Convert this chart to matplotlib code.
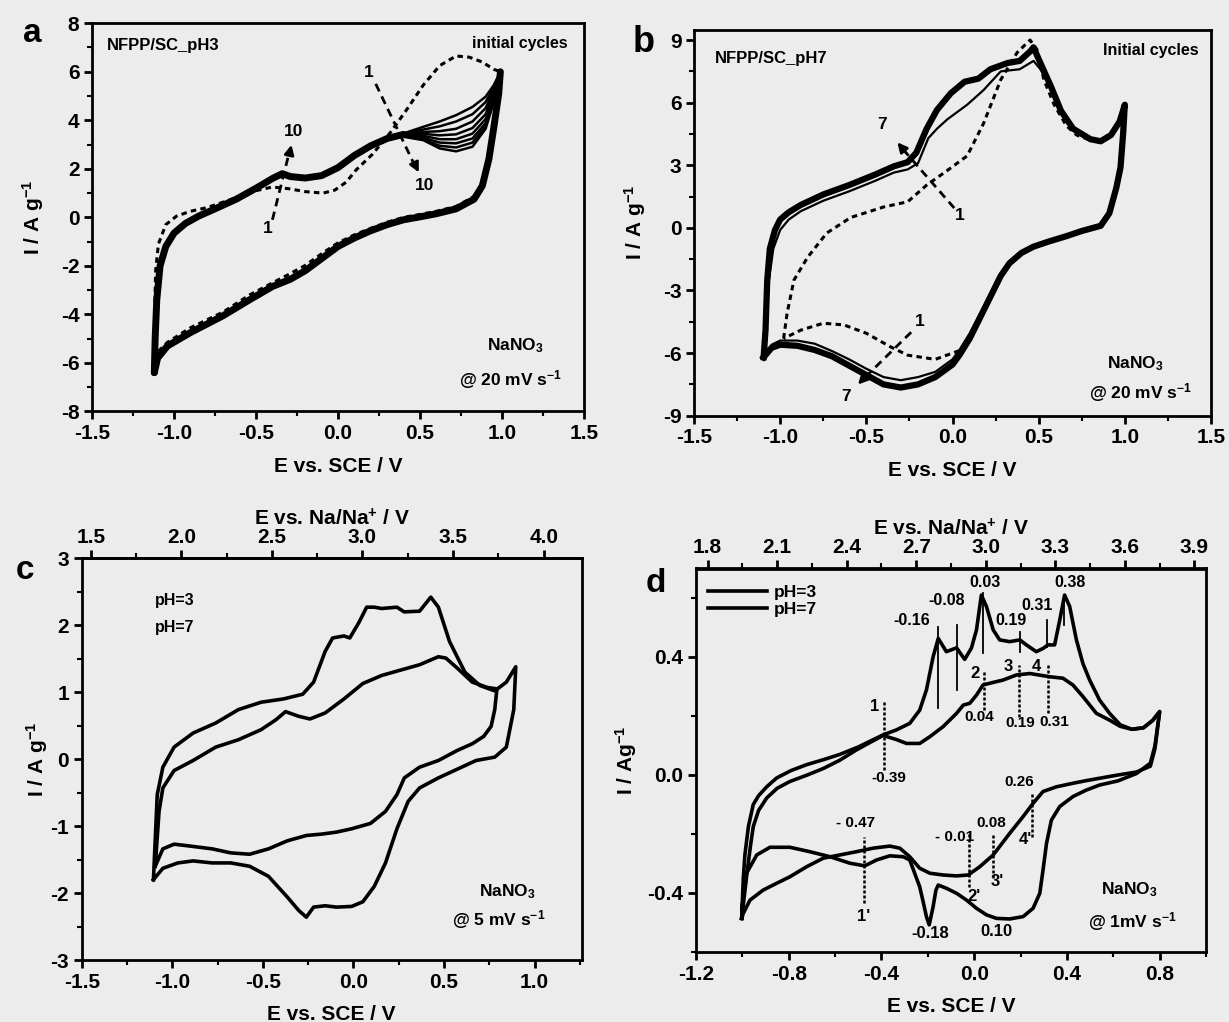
import matplotlib
matplotlib.use('Agg')
import matplotlib.pyplot as plt
from matplotlib.ticker import MultipleLocator, FormatStrFormatter, FixedLocator

plt.rcParams['font.family'] = ['Liberation Sans', 'DejaVu Sans']
plt.rcParams['font.weight'] = 'bold'
plt.rcParams['mathtext.fontset'] = 'custom'
plt.rcParams['mathtext.rm'] = 'Liberation Sans:bold'
plt.rcParams['mathtext.bf'] = 'Liberation Sans:bold'
plt.rcParams['mathtext.default'] = 'bf'

# ---------------- panel a : NFPP/SC pH3, cycles 1-10 ----------------
a_up_E = [-1.12, -1.115, -1.105, -1.085, -1.05, -1.0, -0.93, -0.85, -0.75, -0.62, -0.50,
          -0.40, -0.34, -0.29, -0.20, -0.10, 0.0, 0.10, 0.20, 0.30, 0.40]
a_up_I = [-6.4, -5.0, -3.4, -2.0, -1.2, -0.65, -0.25, 0.05, 0.35, 0.75, 1.2,
          1.6, 1.8, 1.68, 1.62, 1.72, 2.05, 2.55, 2.95, 3.25, 3.42]
a_tail_E = [0.40, 0.52, 0.62, 0.72, 0.82, 0.90, 0.95, 0.99]
a_tail_c2 = [3.46, 3.73, 3.95, 4.21, 4.55, 4.97, 5.45, 6.0]
a_tail_c3 = [3.44, 3.62, 3.75, 3.95, 4.25, 4.75, 5.35, 6.0]
a_tail_c4 = [3.42, 3.52, 3.55, 3.65, 3.95, 4.50, 5.25, 6.0]
a_tail_c5 = [3.40, 3.44, 3.38, 3.42, 3.68, 4.25, 5.15, 6.0]
a_tail_c6 = [3.38, 3.36, 3.22, 3.22, 3.45, 4.05, 5.05, 6.0]
a_tail_c7 = [3.36, 3.28, 3.08, 3.05, 3.25, 3.88, 4.95, 6.0]
a_tail_c8 = [3.34, 3.22, 2.95, 2.88, 3.08, 3.75, 4.85, 6.0]
a_tail_c10 = [3.32, 3.18, 2.84, 2.72, 2.91, 3.65, 4.75, 6.0]
a_down_E = [0.99, 0.98, 0.95, 0.92, 0.88, 0.83, 0.72, 0.60, 0.50, 0.40, 0.30, 0.20, 0.10,
            0.0, -0.10, -0.20, -0.29, -0.40, -0.54, -0.70, -0.90, -1.04, -1.10, -1.12]
a_down_I = [6.0, 5.1, 3.7, 2.4, 1.3, 0.75, 0.35, 0.15, 0.02, -0.10, -0.30, -0.55, -0.85,
            -1.2, -1.7, -2.2, -2.55, -2.85, -3.4, -4.05, -4.75, -5.3, -5.8, -6.4]
a_c1_up_E = [-1.12, -1.118, -1.112, -1.095, -1.05, -0.985, -0.90, -0.80, -0.66, -0.50, -0.40,
             -0.30, -0.20, -0.09, -0.02, 0.05, 0.11, 0.21, 0.32, 0.42, 0.52, 0.62, 0.72,
             0.80, 0.88, 0.95, 0.99]
a_c1_up_I = [-5.9, -4.0, -2.2, -1.1, -0.3, 0.05, 0.25, 0.40, 0.72, 1.1, 1.25,
             1.18, 1.06, 1.0, 1.12, 1.45, 1.95, 2.6, 3.5, 4.45, 5.45, 6.25, 6.65,
             6.6, 6.4, 6.1, 6.0]
a_c1_down_E = [0.99, 0.97, 0.93, 0.89, 0.84, 0.72, 0.60, 0.50, 0.40, 0.30, 0.20, 0.10, 0.0,
               -0.10, -0.20, -0.30, -0.40, -0.54, -0.70, -0.90, -1.04, -1.10, -1.12]
a_c1_down_I = [6.0, 4.5, 2.6, 1.5, 0.9, 0.45, 0.25, 0.12, 0.0, -0.2, -0.45, -0.72, -1.05,
               -1.5, -1.98, -2.35, -2.7, -3.2, -3.9, -4.55, -5.15, -5.55, -5.9]

# ---------------- panel b : NFPP/SC pH7, cycles 1-7 ----------------
b_c7_E = [-1.096, -1.085, -1.075, -1.06, -1.03, -1.0, -0.95, -0.88, -0.75, -0.60, -0.45, -0.34,
          -0.26, -0.21, -0.15, -0.09, -0.01, 0.07, 0.15, 0.22, 0.32, 0.39, 0.45, 0.47, 0.51,
          0.57, 0.63, 0.70, 0.80, 0.86, 0.92, 0.97, 1.0,
          0.99, 0.975, 0.95, 0.91, 0.86, 0.75, 0.66, 0.56, 0.47, 0.40, 0.33, 0.28, 0.22, 0.16,
          0.10, 0.04, 0.0, -0.10, -0.20, -0.30, -0.40, -0.50, -0.60, -0.70, -0.80, -0.90, -1.0,
          -1.05, -1.096]
b_c7_I = [-6.2, -4.9, -2.5, -1.0, -0.1, 0.4, 0.75, 1.1, 1.6, 2.05, 2.55, 2.95,
          3.15, 3.6, 4.75, 5.65, 6.45, 7.0, 7.15, 7.6, 7.9, 8.0, 8.45, 8.65, 7.9,
          6.8, 5.6, 4.75, 4.25, 4.15, 4.45, 5.1, 5.9,
          4.5, 2.9, 1.9, 0.7, 0.1, -0.15, -0.4, -0.65, -0.9, -1.2, -1.7, -2.3, -3.3, -4.3,
          -5.3, -6.1, -6.55, -7.15, -7.5, -7.65, -7.5, -7.05, -6.6, -6.15, -5.85, -5.65, -5.6,
          -5.75, -6.2]
b_c2_E = [-1.096, -1.08, -1.065, -1.04, -1.0, -0.95, -0.88, -0.75, -0.60, -0.45, -0.34, -0.26,
          -0.20, -0.14, -0.09, -0.03, 0.085, 0.18, 0.28, 0.39, 0.45, 0.47, 0.51, 0.57, 0.63,
          0.70, 0.80, 0.86, 0.92, 0.97, 1.0,
          0.99, 0.975, 0.95, 0.91, 0.86, 0.75, 0.66, 0.56, 0.47, 0.40, 0.33, 0.28, 0.22, 0.16,
          0.10, 0.04, 0.0, -0.10, -0.20, -0.30, -0.40, -0.50, -0.60, -0.70, -0.80, -0.90, -1.0,
          -1.05, -1.096]
b_c2_I = [-6.2, -4.5, -2.5, -1.0, -0.1, 0.4, 0.8, 1.3, 1.75, 2.25, 2.65, 2.8,
          3.1, 4.3, 4.75, 5.2, 5.9, 6.6, 7.5, 7.6, 7.9, 8.0, 7.6, 6.7, 5.5,
          4.7, 4.2, 4.1, 4.4, 5.05, 5.9,
          4.5, 2.9, 1.9, 0.75, 0.15, -0.1, -0.35, -0.6, -0.85, -1.15, -1.6, -2.2, -3.15, -4.1,
          -5.05, -5.85, -6.3, -6.9, -7.15, -7.3, -7.15, -6.75, -6.3, -5.9, -5.55, -5.4, -5.4,
          -5.6, -6.2]
b_c1_E = [-0.98, -0.96, -0.92, -0.84, -0.73, -0.59, -0.40, -0.26, -0.15, -0.03, 0.085, 0.18,
          0.28, 0.375, 0.45, 0.49, 0.53, 0.59, 0.66, 0.72, 0.80, 0.86, 0.92, 0.97, 1.0,
          0.99, 0.975, 0.95, 0.91, 0.86, 0.75, 0.66, 0.56, 0.47, 0.40, 0.33, 0.28, 0.22, 0.16,
          0.10, 0.05, -0.10, -0.26, -0.36, -0.50, -0.63, -0.75, -0.88, -0.98]
b_c1_I = [-5.3, -4.1, -2.5, -1.4, -0.25, 0.5, 1.0, 1.25, 2.05, 2.75, 3.45, 5.0,
          7.1, 8.4, 9.0, 8.55, 7.1, 5.9, 4.9, 4.45, 4.2, 4.1, 4.4, 5.05, 5.9,
          4.5, 2.9, 1.9, 0.7, 0.1, -0.15, -0.4, -0.65, -0.9, -1.2, -1.7, -2.3, -3.3, -4.3,
          -5.3, -5.85, -6.3, -6.1, -5.7, -5.05, -4.65, -4.57, -4.9, -5.3]

# ---------------- panel c : pH3 vs pH7 at 5 mV/s ----------------
c_ph7_E = [-1.104, -1.083, -1.052, -0.99, -0.885, -0.76, -0.635, -0.51, -0.385, -0.28, -0.22,
           -0.156, -0.115, -0.052, -0.02, 0.03, 0.073, 0.115, 0.156, 0.24, 0.28, 0.365, 0.427,
           0.469, 0.53, 0.615, 0.698, 0.78, 0.844, 0.896,
           0.885, 0.844, 0.78, 0.677, 0.573, 0.469, 0.365, 0.302, 0.24, 0.177, 0.115, 0.052,
           -0.01, -0.094, -0.156, -0.22, -0.26, -0.302, -0.365, -0.469, -0.573, -0.677, -0.78,
           -0.885, -0.969, -1.052, -1.104]
c_ph7_I = [-1.8, -0.53, -0.12, 0.18, 0.39, 0.54, 0.74, 0.85, 0.9, 0.97, 1.15,
           1.61, 1.81, 1.84, 1.81, 2.04, 2.27, 2.27, 2.25, 2.27, 2.2, 2.21, 2.42,
           2.27, 1.76, 1.3, 1.1, 1.02, 1.15, 1.38,
           0.74, 0.18, 0.03, -0.02, -0.15, -0.28, -0.43, -0.63, -1.04, -1.55, -1.9, -2.13,
           -2.2, -2.21, -2.19, -2.21, -2.36, -2.26, -2.06, -1.75, -1.6, -1.55, -1.55,
           -1.52, -1.55, -1.63, -1.8]
c_ph3_E = [-1.094, -1.073, -1.052, -0.99, -0.885, -0.76, -0.635, -0.51, -0.427, -0.375, -0.302,
           -0.24, -0.156, -0.052, 0.052, 0.156, 0.26, 0.365, 0.469, 0.51, 0.573, 0.656, 0.74,
           0.792,
           0.78, 0.76, 0.719, 0.656, 0.573, 0.469, 0.365, 0.281, 0.24, 0.177, 0.094, -0.01,
           -0.094, -0.177, -0.26, -0.365, -0.469, -0.573, -0.677, -0.78, -0.927, -0.99, -1.052,
           -1.094]
c_ph3_I = [-1.6, -0.78, -0.43, -0.17, -0.02, 0.18, 0.29, 0.44, 0.59, 0.71, 0.64,
           0.6, 0.69, 0.9, 1.13, 1.25, 1.33, 1.41, 1.53, 1.51, 1.36, 1.15, 1.07,
           1.05,
           0.74, 0.49, 0.34, 0.23, 0.13, -0.02, -0.12, -0.28, -0.53, -0.78, -0.96, -1.04,
           -1.09, -1.12, -1.14, -1.22, -1.34, -1.42, -1.4, -1.34, -1.29, -1.27, -1.34,
           -1.6]

# ---------------- panel d : pH3 vs pH7 at 1 mV/s ----------------
d_ph7_E = [-1.003, -0.996, -0.989, -0.974, -0.953, -0.93, -0.895, -0.852, -0.79, -0.723, -0.65,
           -0.579, -0.50, -0.44, -0.393, -0.335, -0.278, -0.235, -0.206, -0.177, -0.155, -0.12,
           -0.076, -0.041, -0.012, 0.010, 0.031, 0.053, 0.082, 0.110, 0.153, 0.197, 0.225,
           0.268, 0.297, 0.318, 0.347, 0.369, 0.390, 0.412, 0.441, 0.469, 0.498, 0.541, 0.584,
           0.63, 0.68, 0.73, 0.77, 0.80,
           0.78, 0.76, 0.70, 0.62, 0.541, 0.484, 0.426, 0.369, 0.333, 0.312, 0.297, 0.283,
           0.254, 0.211, 0.153, 0.096, 0.053, 0.010, -0.033, -0.076, -0.120, -0.155, -0.165,
           -0.177, -0.194, -0.206, -0.220, -0.235, -0.278, -0.306, -0.364, -0.421, -0.472,
           -0.536, -0.622, -0.709, -0.795, -0.881, -0.938, -0.982, -0.999, -1.003]
d_ph7_I = [-0.486, -0.35, -0.27, -0.175, -0.10, -0.07, -0.04, -0.01, 0.015, 0.035, 0.052,
           0.07, 0.095, 0.118, 0.136, 0.153, 0.175, 0.220, 0.288, 0.401, 0.463, 0.418,
           0.431, 0.392, 0.430, 0.492, 0.610, 0.571, 0.492, 0.458, 0.452, 0.458, 0.441,
           0.418, 0.429, 0.441, 0.441, 0.525, 0.610, 0.571, 0.458, 0.378, 0.322, 0.254, 0.209,
           0.17, 0.155, 0.16, 0.185, 0.215,
           0.10, 0.04, 0.005, -0.02, -0.034, -0.051, -0.073, -0.107, -0.153, -0.232, -0.322,
           -0.401, -0.452, -0.480, -0.488, -0.486, -0.474, -0.452, -0.424, -0.401, -0.384,
           -0.373, -0.39, -0.446, -0.508, -0.480, -0.43, -0.379, -0.288, -0.277, -0.274,
           -0.288, -0.308, -0.299, -0.277, -0.260, -0.245, -0.245, -0.271, -0.333, -0.435,
           -0.486]
d_ph3_E = [-1.003, -0.99, -0.982, -0.965, -0.953, -0.93, -0.895, -0.85, -0.795, -0.72, -0.651,
           -0.58, -0.508, -0.45, -0.393, -0.335, -0.292, -0.235, -0.191, -0.134, -0.076,
           -0.047, -0.019, 0.010, 0.038, 0.067, 0.125, 0.182, 0.240, 0.326, 0.383, 0.426,
           0.469, 0.527, 0.584, 0.63, 0.68, 0.73, 0.77, 0.80,
           0.78, 0.76, 0.70, 0.62, 0.541, 0.484, 0.426, 0.355, 0.297, 0.254, 0.211, 0.153,
           0.082, 0.024, -0.026, -0.076, -0.134, -0.191, -0.235, -0.278, -0.321, -0.364,
           -0.436, -0.508, -0.579, -0.651, -0.723, -0.795, -0.852, -0.910, -0.967, -0.996,
           -1.003]
d_ph3_I = [-0.486, -0.40, -0.345, -0.24, -0.175, -0.12, -0.078, -0.045, -0.022, 0.0, 0.022,
           0.05, 0.085, 0.11, 0.134, 0.12, 0.107, 0.107, 0.130, 0.164, 0.209,
           0.237, 0.243, 0.271, 0.305, 0.311, 0.322, 0.339, 0.344, 0.333, 0.328, 0.305,
           0.266, 0.209, 0.186, 0.165, 0.155, 0.16, 0.185, 0.215,
           0.09, 0.03, 0.01, 0.0, -0.011, -0.019, -0.028, -0.040, -0.056, -0.096, -0.141,
           -0.198, -0.271, -0.311, -0.339, -0.342, -0.339, -0.333, -0.316, -0.277, -0.248,
           -0.241, -0.248, -0.260, -0.271, -0.282, -0.311, -0.345, -0.367, -0.390, -0.424,
           -0.469, -0.486]

# peak markers in d: (E, I_bottom, I_top, label, label_E, label_I)
d_ox_solid = [(-0.155, 0.226, 0.503, '-0.16', -0.27, 0.525),
              (-0.073, 0.288, 0.508, '-0.08', -0.12, 0.593),
              (0.036, 0.412, 0.616, '0.03', 0.045, 0.652),
              (0.197, 0.418, 0.486, '0.19', 0.16, 0.525),
              (0.315, 0.435, 0.525, '0.31', 0.27, 0.576),
              (0.386, 0.508, 0.610, '0.38', 0.415, 0.652)]
d_ox_dash = [(-0.388, 0.017, 0.254, '1', -0.43, 0.232, '-0.39', -0.37, -0.011),
             (0.043, 0.220, 0.356, '2', 0.002, 0.344, '0.04', 0.024, 0.198),
             (0.194, 0.198, 0.373, '3', 0.146, 0.367, '0.19', 0.197, 0.175),
             (0.318, 0.209, 0.373, '4', 0.27, 0.367, '0.31', 0.347, 0.180)]
d_red_dash = [(-0.476, -0.435, -0.209, "1'", -0.476, -0.48, '- 0.47', -0.51, -0.164),
              (-0.022, -0.379, -0.192, "2'", 0.0, -0.412, '- 0.01', -0.083, -0.209),
              (0.082, -0.350, -0.203, "3'", 0.10, -0.36, '0.08', 0.074, -0.164),
              (0.250, -0.209, -0.056, "4'", 0.22, -0.22, '0.26', 0.196, -0.023)]

c_top_ticks = [1.5, 2.0, 2.5, 3.0, 3.5, 4.0]
d_top_ticks = [1.8, 2.1, 2.4, 2.7, 3.0, 3.3, 3.6, 3.9]

W, H = 1229, 1022
fig = plt.figure(figsize=(W / 100, H / 100), dpi=100)
bg = '#ececec'
fig.patch.set_facecolor(bg)


def rect(l, r, t, b):
    return [l / W, 1 - b / H, (r - l) / W, (b - t) / H]


def style(ax, xmaj, xmin, ymaj, ymin, xfmt, yfmt):
    ax.set_facecolor(bg)
    for s in ax.spines.values():
        s.set_linewidth(2)
    ax.xaxis.set_major_locator(MultipleLocator(xmaj))
    ax.xaxis.set_minor_locator(MultipleLocator(xmin))
    ax.yaxis.set_major_locator(MultipleLocator(ymaj))
    ax.yaxis.set_minor_locator(MultipleLocator(ymin))
    ax.xaxis.set_major_formatter(FormatStrFormatter(xfmt))
    ax.yaxis.set_major_formatter(FormatStrFormatter(yfmt))
    ax.tick_params(which='major', direction='out', length=6, width=2, labelsize=15, pad=3)
    ax.tick_params(which='minor', direction='out', length=3.5, width=1.5)
    for lab in ax.get_xticklabels() + ax.get_yticklabels():
        lab.set_fontweight('bold')


def top_axis(ax, ticks, label, pad):
    sec = ax.secondary_xaxis('top', functions=(lambda x: x + 2.95, lambda x: x - 2.95))
    step = ticks[1] - ticks[0]
    minors = [t + step / 2 for t in ticks]
    sec.xaxis.set_major_locator(FixedLocator(ticks))
    sec.xaxis.set_minor_locator(FixedLocator(minors))
    sec.xaxis.set_major_formatter(FormatStrFormatter('%.1f'))
    sec.tick_params(which='major', direction='out', length=6, width=2, labelsize=15, pad=2)
    sec.tick_params(which='minor', direction='out', length=3.5, width=1.5)
    sec.spines['top'].set_linewidth(2)
    sec.set_xlabel(label, fontsize=15, fontweight='bold', labelpad=pad)


dash = (0, (1.8, 1.4))

# ---- a ----
ax = fig.add_axes(rect(92, 584, 23.2, 411.5))
ax.set_xlim(-1.5, 1.5)
ax.set_ylim(-8, 8)
ax.plot(a_up_E, a_up_I, color='k', lw=5, solid_capstyle='round')
ax.plot(a_down_E, a_down_I, color='k', lw=5, solid_capstyle='round')
for c in [a_tail_c2, a_tail_c3, a_tail_c4, a_tail_c5, a_tail_c6, a_tail_c7, a_tail_c8, a_tail_c10]:
    ax.plot(a_tail_E, c, color='k', lw=1.8)
ax.plot(a_c1_up_E, a_c1_up_I, color='k', lw=2.2, ls=dash)
ax.plot(a_c1_down_E, a_c1_down_I, color='k', lw=2.2, ls=dash)
ax.plot([-0.40, -0.30], [-0.1, 2.6], color='k', lw=2, ls=(0, (3, 2)))
ax.annotate('', xy=(-0.28, 3.1), xytext=(-0.30, 2.5),
            arrowprops=dict(arrowstyle='-|>', color='k', lw=2, mutation_scale=14))
ax.plot([0.23, 0.46], [5.5, 2.25], color='k', lw=2, ls=(0, (3, 2)))
ax.annotate('', xy=(0.50, 1.75), xytext=(0.46, 2.3),
            arrowprops=dict(arrowstyle='-|>', color='k', lw=2, mutation_scale=14))
ax.text(-0.27, 3.55, '10', fontsize=12.5, fontweight='bold', ha='center', va='center')
ax.text(-0.43, -0.45, '1', fontsize=12.5, fontweight='bold', ha='center', va='center')
ax.text(0.19, 5.95, '1', fontsize=12.5, fontweight='bold', ha='center', va='center')
ax.text(0.53, 1.3, '10', fontsize=12.5, fontweight='bold', ha='center', va='center')
ax.text(-1.41, 7.1, 'NFPP/SC_pH3', fontsize=12, fontweight='bold', ha='left', va='center')
ax.text(1.40, 7.15, 'initial cycles', fontsize=11.5, fontweight='bold', ha='right', va='center')
ax.text(1.08, -5.3, 'NaNO$_3$', fontsize=12.5, ha='center', va='center')
ax.text(1.05, -6.7, '@ 20 mV s$^{-1}$', fontsize=12.5, ha='center', va='center')
style(ax, 0.5, 0.25, 2, 1, '%.1f', '%d')
ax.set_xlabel('E vs. SCE / V', fontsize=15, fontweight='bold', labelpad=10)
ax.set_ylabel('I / A g$^{-1}$', fontsize=15, fontweight='bold', labelpad=11)
fig.text(32 / W, 1 - 33 / H, 'a', fontsize=24, fontweight='bold', ha='center', va='center')

# ---- b ----
ax = fig.add_axes(rect(694, 1211, 29.6, 415.7))
ax.set_xlim(-1.5, 1.5)
ax.set_ylim(-9, 9.5)
ax.plot(b_c7_E, b_c7_I, color='k', lw=4.5)
ax.plot(b_c2_E, b_c2_I, color='k', lw=1.6)
ax.plot(b_c1_E, b_c1_I, color='k', lw=2.2, ls=dash)
ax.plot([0.01, -0.27], [0.95, 3.6], color='k', lw=2, ls=(0, (3, 2)))
ax.annotate('', xy=(-0.33, 4.2), xytext=(-0.26, 3.5),
            arrowprops=dict(arrowstyle='-|>', color='k', lw=2, mutation_scale=14))
ax.plot([-0.24, -0.50], [-5.0, -7.1], color='k', lw=2, ls=(0, (3, 2)))
ax.annotate('', xy=(-0.56, -7.6), xytext=(-0.49, -7.0),
            arrowprops=dict(arrowstyle='-|>', color='k', lw=2, mutation_scale=14))
ax.text(-0.41, 4.95, '7', fontsize=12.5, fontweight='bold', ha='center', va='center')
ax.text(0.04, 0.6, '1', fontsize=12.5, fontweight='bold', ha='center', va='center')
ax.text(-0.19, -4.5, '1', fontsize=12.5, fontweight='bold', ha='center', va='center')
ax.text(-0.62, -8.1, '7', fontsize=12.5, fontweight='bold', ha='center', va='center')
ax.text(-1.38, 8.1, 'NFPP/SC_pH7', fontsize=12, fontweight='bold', ha='left', va='center')
ax.text(1.43, 8.5, 'Initial cycles', fontsize=11.5, fontweight='bold', ha='right', va='center')
ax.text(1.06, -6.5, 'NaNO$_3$', fontsize=12.5, ha='center', va='center')
ax.text(1.09, -7.9, '@ 20 mV s$^{-1}$', fontsize=12.5, ha='center', va='center')
style(ax, 0.5, 0.25, 3, 1.5, '%.1f', '%d')
ax.set_xlabel('E vs. SCE / V', fontsize=15, fontweight='bold', labelpad=10)
ax.set_ylabel('I / A g$^{-1}$', fontsize=15, fontweight='bold', labelpad=11)
fig.text(644 / W, 1 - 42 / H, 'b', fontsize=26, fontweight='bold', ha='center', va='center')

# ---- c ----
ax = fig.add_axes(rect(81.7, 581.7, 558.3, 960))
ax.set_xlim(-1.5, 1.26)
ax.set_ylim(-3, 3)
ax.plot(c_ph7_E, c_ph7_I, color='k', lw=2.6)
ax.plot(c_ph3_E, c_ph3_I, color='k', lw=2.6)
ax.text(-1.094, 2.37, 'pH=3', fontsize=11.5, ha='left', va='center')
ax.text(-1.094, 1.97, 'pH=7', fontsize=11.5, ha='left', va='center')
ax.text(0.85, -1.98, 'NaNO$_3$', fontsize=12.5, ha='center', va='center')
ax.text(0.80, -2.39, '@ 5 mV s$^{-1}$', fontsize=12.5, ha='center', va='center')
style(ax, 0.5, 0.25, 1, 0.5, '%.1f', '%d')
top_axis(ax, c_top_ticks, 'E vs. Na/Na$^{+}$ / V', 2)
ax.set_xlabel('E vs. SCE / V', fontsize=15, fontweight='bold', labelpad=10)
ax.set_ylabel('I / A g$^{-1}$', fontsize=15, fontweight='bold', labelpad=0)
fig.text(25 / W, 1 - 570 / H, 'c', fontsize=24, fontweight='bold', ha='center', va='center')

# ---- d ----
ax = fig.add_axes(rect(696, 1206, 568.5, 952))
ax.set_xlim(-1.2, 1.0)
ax.set_ylim(-0.6, 0.7)
ax.plot(d_ph3_E, d_ph3_I, color='k', lw=2.6, label='pH=3')
ax.plot(d_ph7_E, d_ph7_I, color='k', lw=2.6, label='pH=7')
for E, lo, hi, lab, lx, ly in d_ox_solid:
    ax.plot([E, E], [lo, hi], color='k', lw=1.3)
    ax.text(lx, ly, lab, fontsize=11.5, ha='center', va='center')
for E, lo, hi, n, nx, ny, lab, lx, ly in d_ox_dash + d_red_dash:
    ax.plot([E, E], [lo, hi], color='k', lw=1.8, ls=(0, (1.2, 0.8)))
    ax.text(nx, ny, n, fontsize=12, ha='center', va='center')
    ax.text(lx, ly, lab, fontsize=11, ha='center', va='center')
ax.text(-0.19, -0.537, '-0.18', fontsize=12, ha='center', va='center')
ax.text(0.096, -0.531, '0.10', fontsize=12, ha='center', va='center')
ax.text(0.67, -0.389, 'NaNO$_3$', fontsize=12.5, ha='center', va='center')
ax.text(0.68, -0.497, '@ 1mV s$^{-1}$', fontsize=12.5, ha='center', va='center')
leg = ax.legend(loc='upper left', bbox_to_anchor=(0.0, 0.99), frameon=False, fontsize=12.5,
                handlelength=3.4, handletextpad=0.4, labelspacing=0.15, borderaxespad=0.3)
for t in leg.get_texts():
    t.set_fontweight('bold')
style(ax, 0.4, 0.2, 0.4, 0.2, '%.1f', '%.1f')
top_axis(ax, d_top_ticks, 'E vs. Na/Na$^{+}$ / V', 2)
ax.set_xlabel('E vs. SCE / V', fontsize=15, fontweight='bold', labelpad=10)
ax.set_ylabel('I / Ag$^{-1}$', fontsize=15, fontweight='bold', labelpad=6)
fig.text(656 / W, 1 - 583 / H, 'd', fontsize=24, fontweight='bold', ha='center', va='center')

fig.savefig('out.png', dpi=100, facecolor=bg)
